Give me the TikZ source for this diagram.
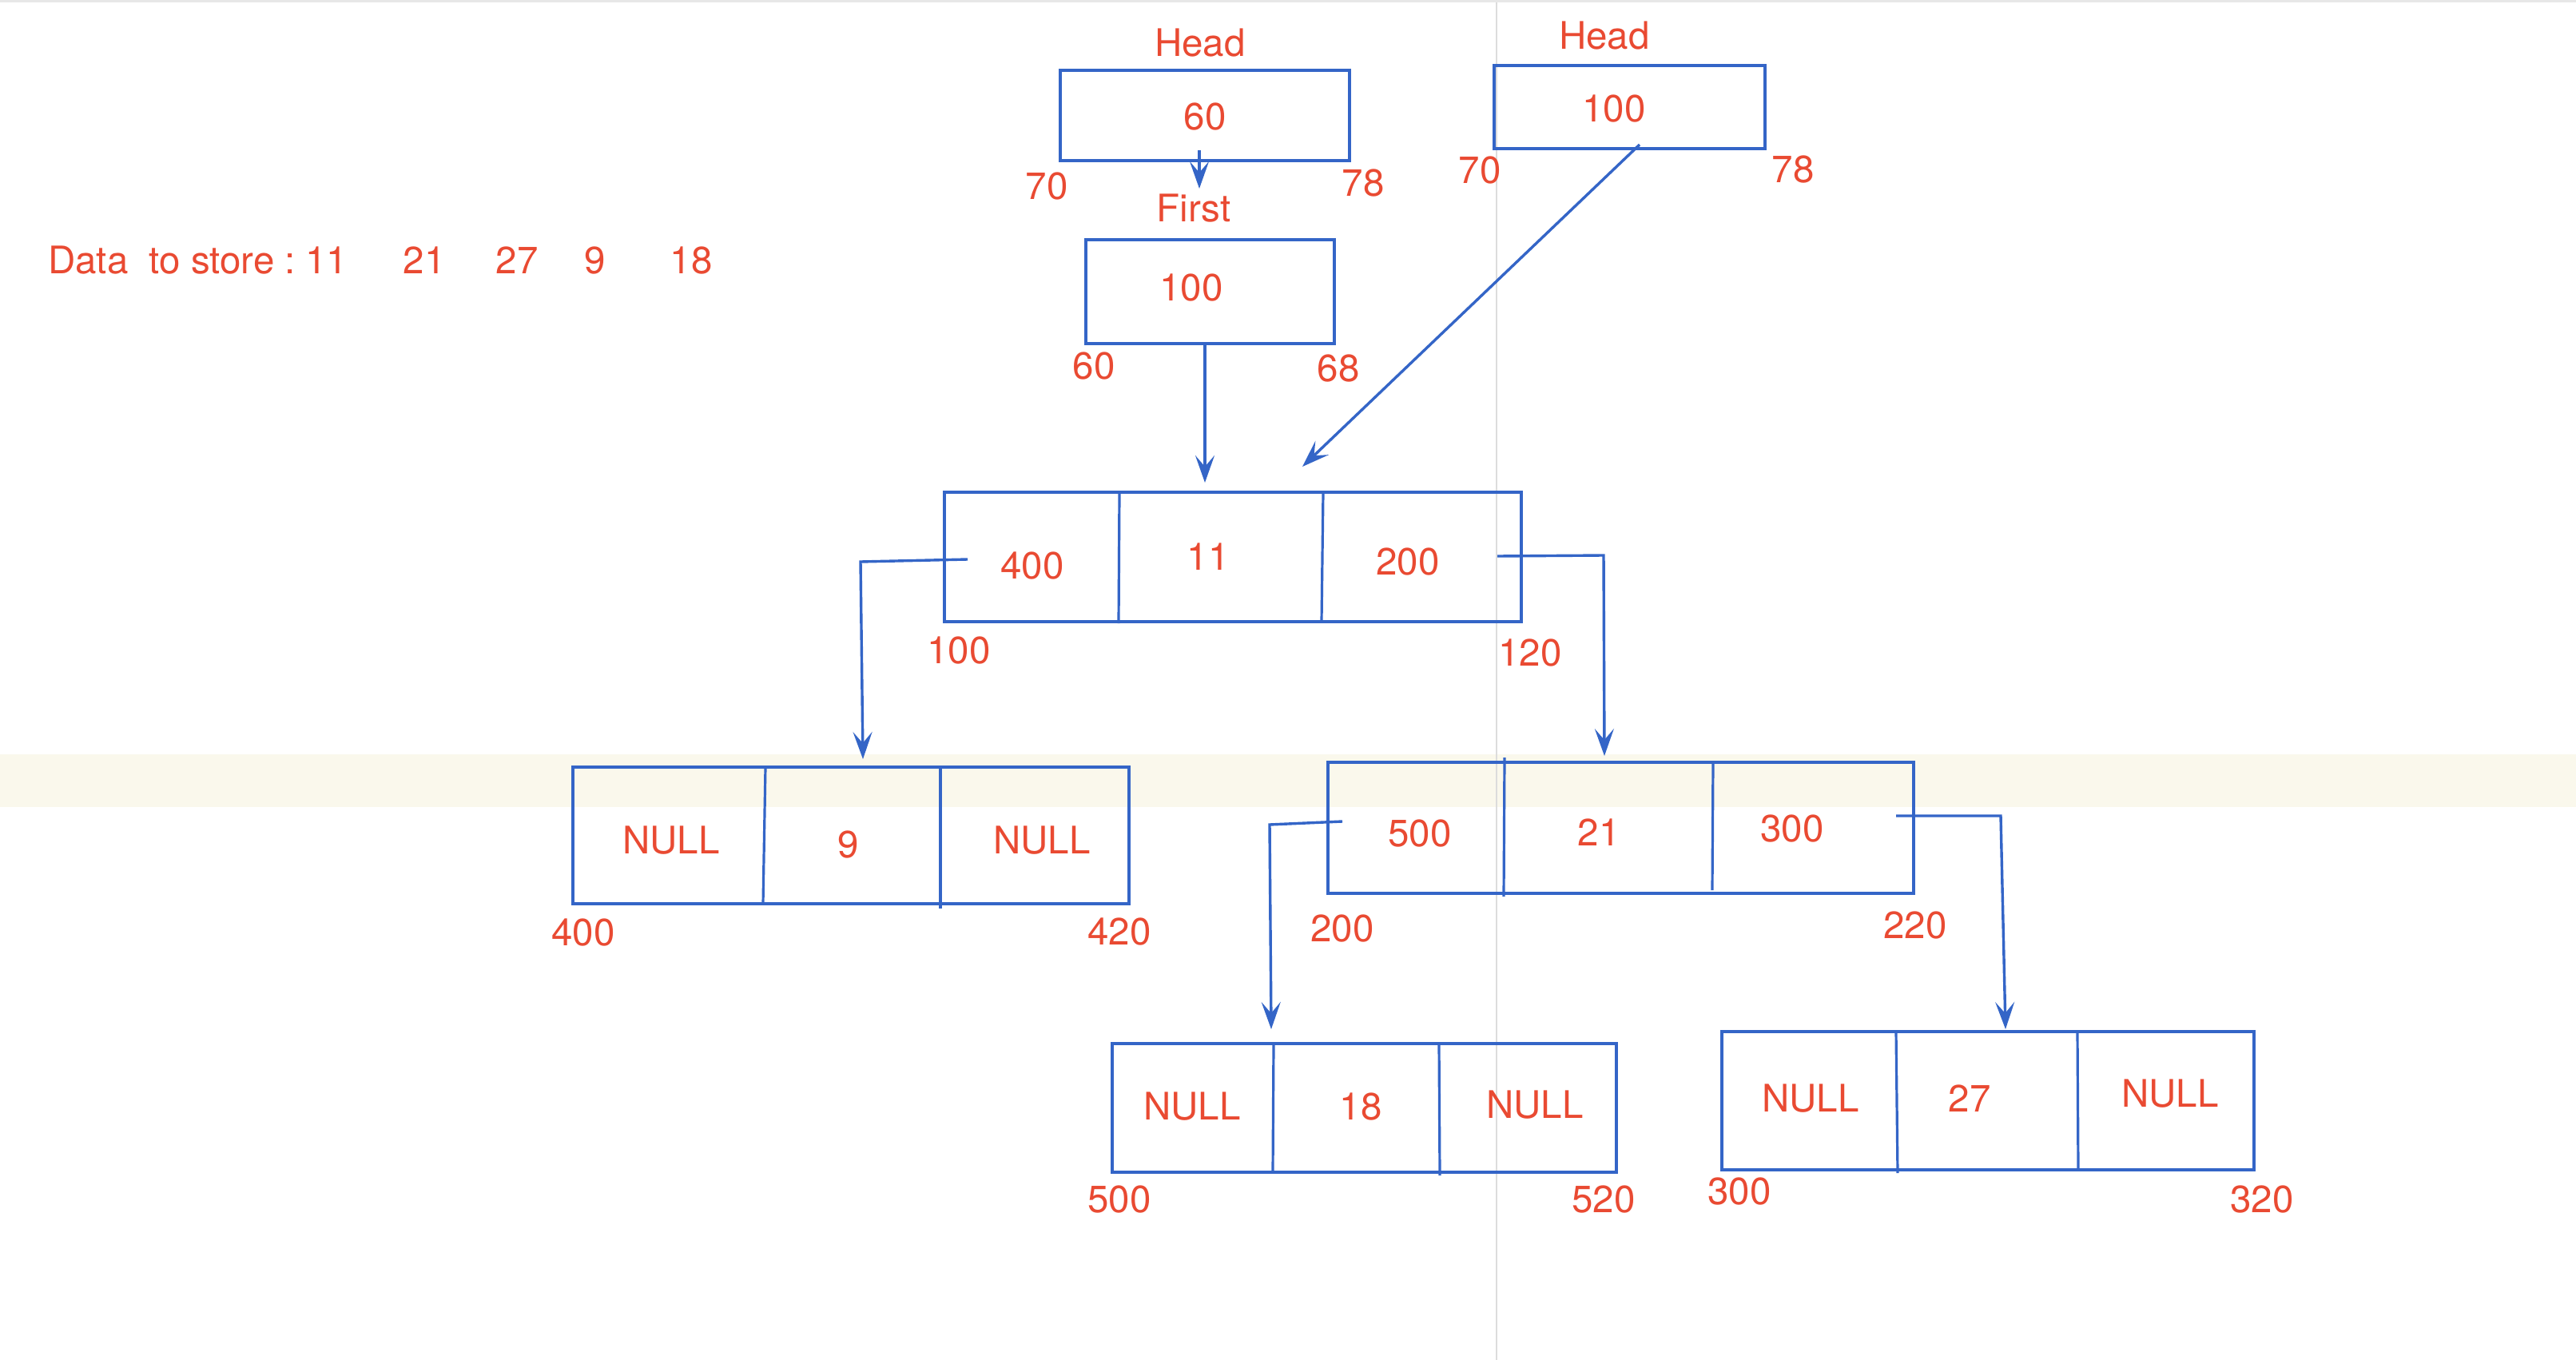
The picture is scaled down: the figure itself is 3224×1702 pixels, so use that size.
\documentclass[tikz,border=0pt]{standalone}
\usepackage{fontspec}
\setmainfont{TeX Gyre Heros}
\usetikzlibrary{arrows.meta}
\definecolor{lred}{RGB}{233,74,50}
\definecolor{lblue}{RGB}{52,101,199}
\definecolor{band}{RGB}{250,248,236}
\definecolor{vline}{RGB}{220,220,220}
\tikzset{
  lab/.style={text=lred, font=\fontsize{47.5}{52}\selectfont, inner sep=0pt},
  box/.style={draw=lblue, line width=4.8pt, inner sep=0pt},
  divider/.style={draw=lblue, line width=3.2pt},
  arr/.style={draw=lblue, line width=3.4pt, -{Stealth[length=34pt,width=24pt,inset=14pt]}},
}
\begin{document}
\begin{tikzpicture}[x=1pt,y=-1pt]
\useasboundingbox (0,0) rectangle (3224,1702);
% background band and guide line
\fill[band] (0,944) rectangle (3224,1010);
\draw[vline, line width=2pt] (1873,0) -- (1873,1702);
\draw[vline!70, line width=3pt] (0,1.5) -- (3224,1.5);

% data text
\node[lab, anchor=base west] (data) at (60,342) {Data\ \ to store :\hspace{12pt}11};
\node[lab, anchor=base] (d21) at (531,342) {21};
\node[lab, anchor=base] (d27) at (647,342) {27};
\node[lab, anchor=base] (d9) at (745,342) {9};
\node[lab, anchor=base] (d18) at (865,342) {18};

% Head 1
\node[box, minimum width=362pt, minimum height=113pt] (h1) at (1508,144.5) {};
\node[lab] (h1t) at (1502,54) {Head};
\node[lab] (h1v) at (1508,146) {60};
\node[lab] (h1a) at (1310,233) {70};
\node[lab] (h1b) at (1706,229) {78};

% First
\node[box, minimum width=311pt, minimum height=130pt] (fb) at (1514.5,365) {};
\node[lab] (ft) at (1494,261) {First};
\node[lab] (fv) at (1491,360) {100};
\node[lab] (fa) at (1369,458) {60};
\node[lab] (fbb) at (1675,461) {68};

% Head 2
\node[box, minimum width=339pt, minimum height=104pt] (h2) at (2039.5,134) {};
\node[lab] (h2t) at (2008,45) {Head};
\node[lab] (h2v) at (2020,136) {100};
\node[lab] (h2a) at (1852,213) {70};
\node[lab] (h2b) at (2244,212) {78};

% Node 11
\node[box, minimum width=722pt, minimum height=162pt] (n11) at (1543,697) {};
\draw[divider] (1401,616) -- (1400,780);
\draw[divider] (1656,616) -- (1654,778);
\node[lab] (n11l) at (1292,708) {400};
\node[lab] (n11m) at (1512,697) {11};
\node[lab] (n11r) at (1762,703) {200};
\node[lab] (n11a) at (1200,814) {100};
\node[lab] (n11b) at (1915,817) {120};

% Node 9
\node[box, minimum width=696pt, minimum height=171pt] (n9) at (1065,1045.5) {};
\draw[divider] (958,960) -- (955,1131);
\draw[divider] (1177,960) -- (1177,1137);
\node[lab] (n9l) at (840,1052) {NULL};
\node[lab] (n9m) at (1062,1057) {9};
\node[lab] (n9r) at (1304,1052) {NULL};
\node[lab] (n9a) at (730,1167) {400};
\node[lab] (n9b) at (1401,1166) {420};

% Node 21
\node[box, minimum width=733pt, minimum height=164pt] (n21) at (2028.5,1036) {};
\draw[divider] (1883,948) -- (1882,1122);
\draw[divider] (2144,954) -- (2143,1114);
\node[lab] (n21l) at (1777,1043) {500};
\node[lab] (n21m) at (2001,1042) {21};
\node[lab] (n21r) at (2243,1037) {300};
\node[lab] (n21a) at (1680,1162) {200};
\node[lab] (n21b) at (2397,1158) {220};

% Node 18
\node[box, minimum width=631pt, minimum height=161pt] (n18) at (1707.5,1386.5) {};
\draw[divider] (1594,1306) -- (1593,1467);
\draw[divider] (1801,1306) -- (1802,1471);
\node[lab] (n18l) at (1492,1385) {NULL};
\node[lab] (n18m) at (1703,1385) {18};
\node[lab] (n18r) at (1921,1383) {NULL};
\node[lab] (n18a) at (1401,1501) {500};
\node[lab] (n18b) at (2007,1501) {520};

% Node 27
\node[box, minimum width=666pt, minimum height=173pt] (n27) at (2488,1377.5) {};
\draw[divider] (2373,1291) -- (2375,1468);
\draw[divider] (2600,1291) -- (2601,1464);
\node[lab] (n27l) at (2266,1375) {NULL};
\node[lab] (n27m) at (2465,1375) {27};
\node[lab] (n27r) at (2716,1369) {NULL};
\node[lab] (n27a) at (2177,1491) {300};
\node[lab] (n27b) at (2831,1501) {320};

% connector coordinates
\coordinate (s1) at (1501,188);  \coordinate (e1) at (1501,236);
\coordinate (s2) at (1508,430);  \coordinate (e2) at (1508,604);
\coordinate (s3) at (2052,181);  \coordinate (e3) at (1630,584);
\coordinate (s4) at (1211,700);  \coordinate (k4) at (1077,703); \coordinate (e4) at (1080,950);
\coordinate (s5) at (1874,696);  \coordinate (k5) at (2007,695); \coordinate (e5) at (2008,946);
\coordinate (s6) at (1680,1028); \coordinate (k6) at (1589,1032); \coordinate (e6) at (1591,1288);
\coordinate (s7) at (2373,1021); \coordinate (k7) at (2504,1021); \coordinate (e7) at (2510,1288);

\draw[arr] (s1) -- (e1);
\draw[arr] (s2) -- (e2);
\draw[arr] (s3) -- (e3);
\draw[arr] (s4) -- (k4) -- (e4);
\draw[arr] (s5) -- (k5) -- (e5);
\draw[arr] (s6) -- (k6) -- (e6);
\draw[arr] (s7) -- (k7) -- (e7);
\end{tikzpicture}
\end{document}
